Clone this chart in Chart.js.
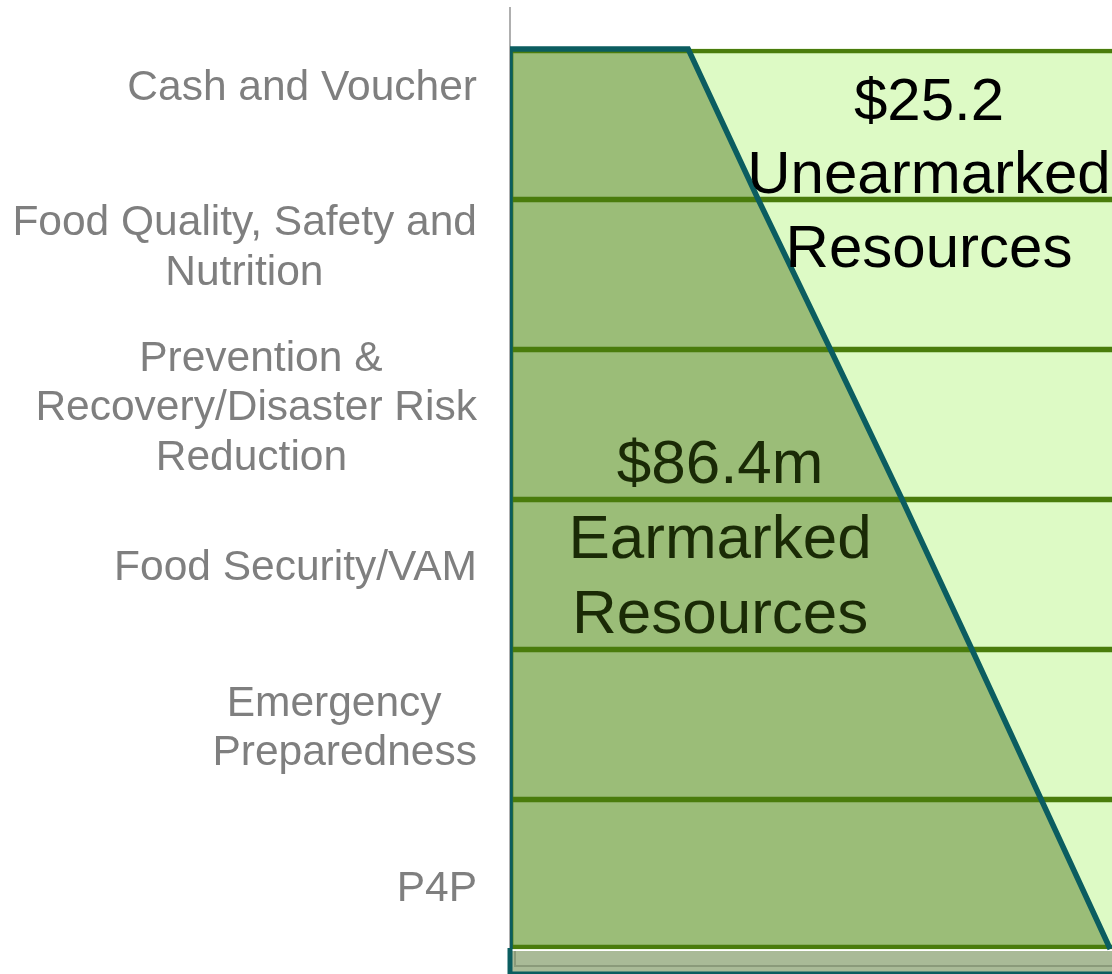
<!DOCTYPE html>
<html>
<head>
<meta charset="utf-8">
<script src="https://cdn.jsdelivr.net/npm/chart.js@4.4.1/dist/chart.umd.min.js"></script>
<style>
  html, body { margin: 0; padding: 0; background: #fff; }
  #wrap { width: 1112px; height: 974px; }
</style>
</head>
<body>
<div id="wrap"><canvas id="chart"></canvas></div>
<script>
// one row per category, top to bottom
const categories = [
  ['Cash and Voucher'],
  ['Food Quality, Safety and', 'Nutrition'],
  ['Prevention &', 'Recovery/Disaster Risk', 'Reduction'],
  ['Food Security/VAM'],
  ['Emergency ', 'Preparedness'],
  ['P4P']
];
// every row is a full bar (share of resources, %)
const totalShare = [100, 100, 100, 100, 100, 100];
// earmarked boundary (% of bar) at each row edge, top to bottom
const earmarkedEdge = [29.6, 41.2, 53.2, 65.1, 76.7, 88.2, 99.7];
const unearmarkedText = ['$25.2', 'Unearmarked', 'Resources'];
const earmarkedText = ['$86.4m', 'Earmarked', 'Resources'];

const FONT = "'Liberation Sans', Arial, sans-serif";
const LABEL_SIZE = 42.5;

// centre the lines of a multi-line label inside its right-aligned block
const mctx = document.createElement('canvas').getContext('2d');
mctx.font = LABEL_SIZE + 'px ' + FONT;
const spaceW = mctx.measureText(' ').width;
function centerLines(lines) {
  const widths = lines.map(l => mctx.measureText(l).width);
  const max = Math.max(...widths);
  return lines.map((l, i) => l + ' '.repeat(Math.round((max - widths[i]) / 2 / spaceW)));
}
const tickLabels = categories.map(c => c.length > 1 ? centerLines(c) : c[0]);

const rows = totalShare.map((v, i) => ({ x: v, y: i + 0.5 }));
// diagonal edge of the earmarked area (filled back to x = 0)
const earmarkedDiagonal = earmarkedEdge.map((v, k) => ({ x: v, y: k }));
// outline: left edge, top edge, diagonal (open at the bottom)
const earmarkedOutline = [
  { x: 0, y: categories.length },
  { x: 0, y: 0 },
  ...earmarkedDiagonal
];

// grey floor strip under the bars
const floorPlugin = {
  id: 'floor',
  afterDatasetsDraw(chart) {
    const { ctx, chartArea: a, scales: { y2 } } = chart;
    const top = y2.getPixelForValue(categories.length) + 2;
    const bottom = a.bottom + 3;
    ctx.save();
    ctx.fillStyle = '#A9BA97';
    ctx.fillRect(a.left, top, a.right - a.left, bottom - top);
    ctx.strokeStyle = '#8A9A7A';
    ctx.lineWidth = 2;
    ctx.beginPath();
    ctx.moveTo(a.left + 5, top);
    ctx.lineTo(a.left + 5, a.bottom - 3);
    ctx.lineTo(a.right, a.bottom - 3);
    ctx.stroke();
    ctx.strokeStyle = '#0B5D60';
    ctx.lineWidth = 5;
    ctx.beginPath();
    ctx.moveTo(a.left, top - 3);
    ctx.lineTo(a.left, a.bottom + 5);
    ctx.stroke();
    ctx.lineWidth = 3;
    ctx.beginPath();
    ctx.moveTo(a.left, bottom + 1);
    ctx.lineTo(a.right, bottom + 1);
    ctx.stroke();
    ctx.restore();
  }
};

// text blocks inside the shape
const notesPlugin = {
  id: 'notes',
  afterDraw(chart, args, opts) {
    const { ctx, scales: { x, y2 } } = chart;
    ctx.save();
    ctx.textAlign = 'center';
    ctx.textBaseline = 'alphabetic';
    opts.items.forEach(n => {
      ctx.font = n.size + 'px ' + FONT;
      ctx.fillStyle = n.color;
      const cx = x.getPixelForValue(n.x);
      const cy = y2.getPixelForValue(n.y);
      n.lines.forEach((l, i) => ctx.fillText(l, cx, cy + i * n.lineHeight));
    });
    ctx.restore();
  }
};

new Chart(document.getElementById('chart'), {
  type: 'bar',
  data: {
    labels: tickLabels,
    datasets: [
      {
        label: 'Unearmarked',
        data: rows,
        xAxisID: 'x', yAxisID: 'y2',
        backgroundColor: '#DDFAC5',
        borderWidth: 0,
        grouped: false,
        barPercentage: 1, categoryPercentage: 1,
        order: 4
      },
      {
        type: 'line',
        label: 'Earmarked',
        indexAxis: 'y',
        data: earmarkedDiagonal,
        xAxisID: 'x', yAxisID: 'y2',
        fill: 'origin',
        backgroundColor: '#9BBD78',
        borderColor: 'rgba(0,0,0,0)',
        borderWidth: 1,
        pointRadius: 0,
        order: 3
      },
      {
        label: 'rows',
        data: rows,
        xAxisID: 'x', yAxisID: 'y2',
        backgroundColor: 'rgba(0,0,0,0)',
        borderColor: '#4A7C0C',
        borderWidth: ctx => ({
          top: ctx.dataIndex === 0 ? 4 : 3,
          bottom: ctx.dataIndex === rows.length - 1 ? 4 : 2,
          left: 3,
          right: 0
        }),
        borderSkipped: false,
        grouped: false,
        barPercentage: 1, categoryPercentage: 1,
        order: 2
      },
      {
        type: 'line',
        label: 'outline',
        indexAxis: 'y',
        data: earmarkedOutline,
        xAxisID: 'x', yAxisID: 'y2',
        fill: false,
        borderColor: '#0B5D60',
        borderWidth: 5.5,
        borderJoinStyle: 'miter',
        pointRadius: 0,
        order: 1
      }
    ]
  },
  options: {
    indexAxis: 'y',
    responsive: true,
    maintainAspectRatio: false,
    animation: false,
    layout: { padding: { top: 8, bottom: 5, left: 0, right: 0 } },
    plugins: {
      legend: { display: false },
      tooltip: { enabled: false },
      notes: {
        items: [
          { lines: unearmarkedText, x: 69.6, y: 0.473, size: 60, lineHeight: 73.5, color: '#000000' },
          { lines: earmarkedText, x: 34.9, y: 2.893, size: 62, lineHeight: 75, color: '#1A2A06' }
        ]
      }
    },
    scales: {
      x: { type: 'linear', min: 0, max: 100, display: false, offset: false },
      y: {
        type: 'category',
        position: 'left',
        offset: true,
        grid: { display: false, drawTicks: false },
        border: { display: true, color: '#AFAFAF', width: 2 },
        ticks: {
          autoSkip: false,
          color: '#7F7F7F',
          padding: 33,
          font: { family: FONT, size: LABEL_SIZE, lineHeight: 1.167 }
        },
        afterFit: s => { s.width = 510; s.paddingTop = 0; s.paddingBottom = 0; }
      },
      y2: {
        type: 'linear',
        position: 'left',
        reverse: true,
        offset: false,
        grid: { offset: false },
        min: -0.2733,
        max: 6.1333,
        display: false,
        afterBuildTicks: s => { s.ticks = totalShare.concat([0]).map((_, i) => ({ value: i })); }
      }
    }
  },
  plugins: [floorPlugin, notesPlugin]
});
</script>
</body>
</html>
